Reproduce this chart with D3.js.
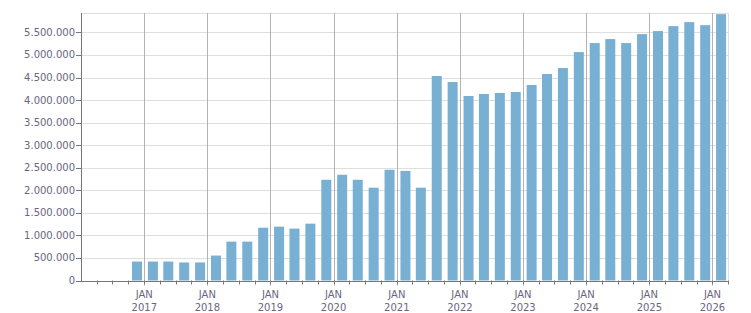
<!DOCTYPE html>
<html><head><meta charset="utf-8">
<script src="https://cdn.jsdelivr.net/npm/d3@7"></script>
<style>body{margin:0;background:#fff}svg{display:block}text{font-family:"DejaVu Sans",Verdana,sans-serif;font-size:10px;fill:#6a6580}</style>
</head><body><svg id="c" width="751" height="313"></svg>
<script>
const periods = ["2016-11","2017-02","2017-05","2017-08","2017-11","2018-02","2018-05","2018-08","2018-11",
"2019-02","2019-05","2019-08","2019-11","2020-02","2020-05","2020-08","2020-11","2021-02","2021-05","2021-08",
"2021-11","2022-02","2022-05","2022-08","2022-11","2023-02","2023-05","2023-08","2023-11","2024-02","2024-05",
"2024-08","2024-11","2025-02","2025-05","2025-08","2025-11","2026-02"];
const values = [420000,420000,420000,400000,400000,553000,862000,862000,1170000,1194000,1150000,1260000,
2233000,2344000,2233000,2057000,2455000,2430000,2057000,4533000,4400000,4090000,4135000,4157000,4180000,
4334000,4578000,4710000,5064000,5263000,5352000,5263000,5462000,5529000,5639000,5728000,5661000,5904000];
const yTicks = [0,500000,1000000,1500000,2000000,2500000,3000000,3500000,4000000,4500000,5000000,5500000];
const yearLabels = [2017,2018,2019,2020,2021,2022,2023,2024,2025,2026];

const svg = d3.select("#c");
const L=81, R=728, T=13, B=280.5;
const parse = d3.timeParse("%Y-%m");
const x = d3.scaleTime().domain([new Date(2016,0,1), new Date(2026,3,1)]).range([L,R]);
const y = d3.scaleLinear().domain([0,5930000]).range([B,T]);
const loc = d3.formatLocale({decimal:",",thousands:".",grouping:[3],currency:["",""]});
const fmt = loc.format(",");

// horizontal grid
svg.append("g").selectAll("line").data(yTicks.filter(d=>d>0)).join("line")
  .attr("x1",L).attr("x2",R).attr("y1",d=>Math.round(y(d))+0.5).attr("y2",d=>Math.round(y(d))+0.5)
  .attr("stroke","#dedede");
svg.append("line").attr("x1",L).attr("x2",R).attr("y1",T+0.5).attr("y2",T+0.5).attr("stroke","#dedede");
svg.append("line").attr("x1",R+0.5).attr("x2",R+0.5).attr("y1",T).attr("y2",B).attr("stroke","#dedede");

// vertical year grid
svg.append("g").selectAll("line").data(yearLabels).join("line")
  .attr("x1",d=>Math.round(x(new Date(d,0,1)))+0.5).attr("x2",d=>Math.round(x(new Date(d,0,1)))+0.5)
  .attr("y1",T).attr("y2",B+5).attr("stroke","#b3b3b3");

// bars
const bw = 10;
svg.append("g").selectAll("rect").data(values).join("rect")
  .attr("x",(d,i)=>x(d3.timeDay.offset(parse(periods[i]),19))-bw/2)
  .attr("width",bw)
  .attr("y",d=>y(d)).attr("height",d=>B-y(d))
  .attr("fill","#78b0d3");

// axes lines
svg.append("line").attr("x1",L+0.5).attr("x2",L+0.5).attr("y1",T).attr("y2",B+1).attr("stroke","#777");
svg.append("line").attr("x1",L).attr("x2",R+1).attr("y1",Math.round(B)+0.5).attr("y2",Math.round(B)+0.5).attr("stroke","#777");

// y ticks & labels
const yg = svg.append("g");
yg.selectAll("line").data(yTicks).join("line")
  .attr("x1",L-5).attr("x2",L).attr("y1",d=>Math.round(y(d))+0.5).attr("y2",d=>Math.round(y(d))+0.5).attr("stroke","#777");
yg.selectAll("text").data(yTicks).join("text")
  .attr("x",L-6).attr("y",d=>y(d)+3.5).attr("text-anchor","end").text(d=>fmt(d));

// x quarter ticks
const qt = d3.timeMonth.every(3).range(new Date(2016,3,1), new Date(2026,3,2));
svg.append("g").selectAll("line").data(qt).join("line")
  .attr("x1",d=>Math.round(x(d))+0.5).attr("x2",d=>Math.round(x(d))+0.5)
  .attr("y1",B).attr("y2",B+4).attr("stroke","#777");

// x labels
const xl = svg.append("g").selectAll("g").data(yearLabels).join("g")
  .attr("transform",d=>`translate(${x(new Date(d,0,1))},0)`);
xl.append("text").attr("y",298).attr("text-anchor","middle").text("JAN");
xl.append("text").attr("y",311).attr("text-anchor","middle").text(d=>d);
</script></body></html>
